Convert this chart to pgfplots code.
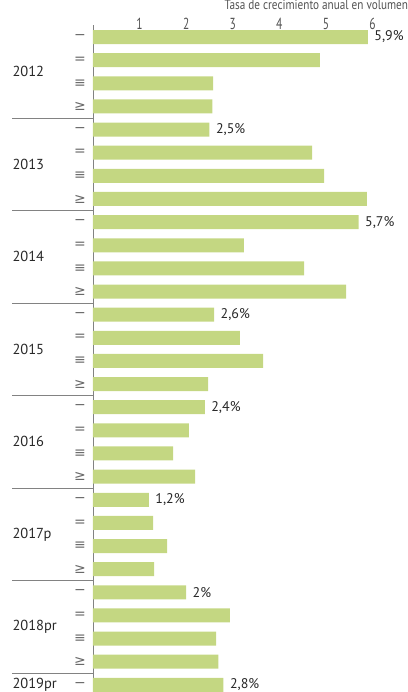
\documentclass[border=0pt]{standalone}
\usepackage{pgfplots}
\pgfplotsset{compat=1.18}
\usepackage{fontspec}
\setmainfont{PT Sans}
\newfontfamily\symfont{DejaVu Sans}
\definecolor{barra}{RGB}{196,215,130}
\definecolor{linea}{RGB}{130,130,130}
\definecolor{texto}{RGB}{40,40,40}

% trimestres tal como aparecen en el original
\newcommand\qa{−}
\newcommand\qb{=}
\newcommand\qc{≡}
\newcommand\qd{≥}

\begin{document}
\begin{tikzpicture}
\begin{axis}[
    name=ax,
    scale only axis,
    width=315pt, height=667pt,
    xbar, bar width=14pt, bar shift=0pt,
    xmin=0, xmax=6.76,
    ymin=-0.52, ymax=28.31,
    y dir=reverse,
    axis x line*=top,
    axis y line*=left,
    x axis line style={draw=none},
    y axis line style={draw=linea, line width=0.8pt, -},
    major tick length=0pt,
    xtick style={draw=none}, ytick style={draw=none},
    xtick={1,2,3,4,5,6},
    xticklabels={1,2,3,4,5,6},
    xticklabel style={anchor=base, yshift=-4pt, xscale=0.72,
        font=\fontsize{16}{18}\selectfont, text=texto!80},
    ytick={0,...,28},
    yticklabels={\qa,\qb,\qc,\qd,\qa,\qb,\qc,\qd,\qa,\qb,\qc,\qd,
        \qa,\qb,\qc,\qd,\qa,\qb,\qc,\qd,\qa,\qb,\qc,\qd,
        \qa,\qb,\qc,\qd,\qa},
    yticklabel style={anchor=center, xshift=-13pt,
        font=\symfont\fontsize{14}{16}\selectfont, text=texto!70},
    clip=false,
]
\addplot[fill=barra, draw=none] coordinates {
    (5.9,0) (4.87,1) (2.58,2) (2.56,3)
    (2.5,4) (4.7,5) (4.96,6) (5.88,7)
    (5.7,8) (3.24,9) (4.53,10) (5.43,11)
    (2.6,12) (3.15,13) (3.65,14) (2.47,15)
    (2.4,16) (2.06,17) (1.72,18) (2.19,19)
    (1.2,20) (1.29,21) (1.59,22) (1.31,23)
    (2.0,24) (2.94,25) (2.64,26) (2.69,27)
    (2.8,28)
};
\addplot[draw=none, fill=none, nodes near coords, point meta=explicit symbolic,
    nodes near coords style={anchor=west, xshift=3pt,
        font=\fontsize{14}{16}\selectfont, text=texto}] coordinates {
    (5.9,0) [5,9\%]
    (2.5,4) [2,5\%]
    (5.7,8) [5,7\%]
    (2.6,12) [2,6\%]
    (2.4,16) [2,4\%]
    (1.2,20) [1,2\%]
    (2.0,24) [2\%]
    (2.8,28) [2,8\%]
};

% separadores entre años
\draw[linea, line width=0.8pt] (axis cs:0,3.5) -- ++(-81pt,0pt);
\draw[linea, line width=0.8pt] (axis cs:0,7.5) -- ++(-81pt,0pt);
\draw[linea, line width=0.8pt] (axis cs:0,11.5) -- ++(-81pt,0pt);
\draw[linea, line width=0.8pt] (axis cs:0,15.5) -- ++(-81pt,0pt);
\draw[linea, line width=0.8pt] (axis cs:0,19.5) -- ++(-81pt,0pt);
\draw[linea, line width=0.8pt] (axis cs:0,23.5) -- ++(-81pt,0pt);
\draw[linea, line width=0.8pt] (axis cs:0,27.5) -- ++(-81pt,0pt);

% años
\begin{scope}[every node/.style={anchor=west, xshift=-84pt, text=texto,
        font=\fontsize{14.5}{16}\selectfont}]
\node at (axis cs:0,1.5) {2012};
\node at (axis cs:0,5.5) {2013};
\node at (axis cs:0,9.5) {2014};
\node at (axis cs:0,13.5) {2015};
\node at (axis cs:0,17.5) {2016};
\node at (axis cs:0,21.5) {2017p};
\node at (axis cs:0,25.5) {2018pr};
\node at (axis cs:0,28) {2019pr};
\end{scope}
\end{axis}
\node[anchor=base east, xscale=0.83, text=texto!80,
    font=\fontsize{13.5}{15}\selectfont]
    at ([xshift=3pt, yshift=15pt]ax.north east) {Tasa de crecimiento anual en volumen};
\pgfresetboundingbox
\path[use as bounding box] ([xshift=-93pt, yshift=25pt]ax.north west) rectangle (ax.south east);
\end{tikzpicture}
\end{document}
